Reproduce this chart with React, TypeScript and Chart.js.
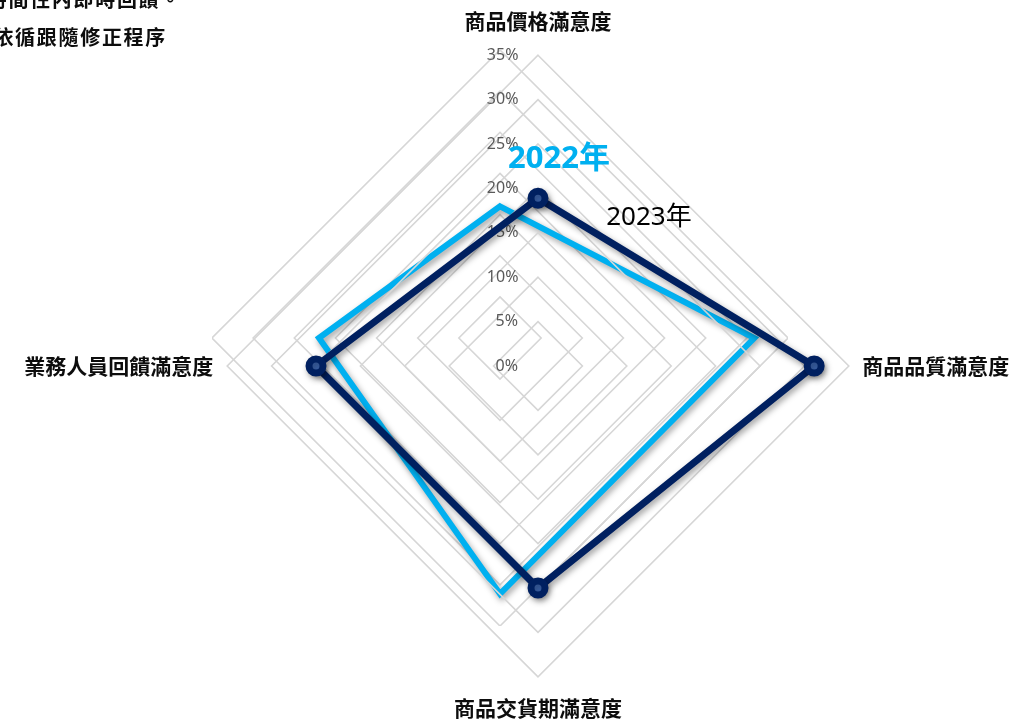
import React, { useEffect, useRef } from 'react';
import { Chart, registerables } from 'chart.js';

Chart.register(...registerables);

// ---- data ----
const categories = ['商品價格滿意度', '商品品質滿意度', '商品交貨期滿意度', '業務人員回饋滿意度'];
const series2022 = [16.0, 30.9, 31.1, 22.0];
const series2023 = [18.9, 31.1, 25.0, 25.0];
const seriesNames = ['2022年', '2023年'];
const scaleMin = 0;
const scaleMax = 35;
const scaleStep = 5;
const noteLines = ['時間性內即時回饋。', '依循跟隨修正程序'];

const CJK = "'Noto Sans CJK TC', 'Noto Sans', sans-serif";
const LATIN = "'Noto Sans', 'Noto Sans CJK TC', sans-serif";

const shadowPlugin = {
  id: 'lineShadow',
  beforeDatasetsDraw(chart: any) {
    const c = chart.ctx;
    c.save();
    c.shadowColor = 'rgba(0,0,0,0.38)';
    c.shadowBlur = 6;
    c.shadowOffsetX = 2;
    c.shadowOffsetY = 3;
  },
  afterDatasetsDraw(chart: any) {
    chart.ctx.restore();
  },
};

function Radar2022() {
  const ref = useRef<HTMLCanvasElement | null>(null);
  useEffect(() => {
    if (!ref.current) return;
    const chart = new Chart(ref.current, {
      type: 'radar',
      data: {
        labels: categories,
        datasets: [
          {
            label: seriesNames[0],
            data: series2022,
            borderColor: '#00B0F0',
            backgroundColor: 'rgba(0,0,0,0)',
            borderWidth: 6,
            pointRadius: 0,
            pointHoverRadius: 0,
            fill: false,
            borderJoinStyle: 'miter',
          } as any,
        ],
      },
      options: {
        responsive: false,
        animation: false,
        events: [],
        layout: { padding: 0 },
        plugins: { legend: { display: false }, tooltip: { enabled: false } },
        scales: {
          r: {
            min: scaleMin,
            max: scaleMax,
            ticks: { display: false, stepSize: scaleStep },
            pointLabels: { display: false },
            angleLines: { display: false },
            grid: { color: '#D6D6D6', lineWidth: 1.6 },
          },
        },
      } as any,
      plugins: [shadowPlugin],
    });
    return () => chart.destroy();
  }, []);
  return (
    <canvas
      ref={ref}
      width={576}
      height={576}
      style={{ position: 'absolute', left: 212, top: 50, width: 576, height: 576 }}
    />
  );
}

function Radar2023() {
  const ref = useRef<HTMLCanvasElement | null>(null);
  useEffect(() => {
    if (!ref.current) return;
    const labelPads = [14, 5.5, 11, 6];
    const chart = new Chart(ref.current, {
      type: 'radar',
      data: {
        labels: categories,
        datasets: [
          {
            label: seriesNames[1],
            data: series2023,
            borderColor: '#002060',
            backgroundColor: 'rgba(0,0,0,0)',
            borderWidth: 7,
            pointRadius: 7,
            pointHoverRadius: 7,
            pointBorderWidth: 7,
            pointBackgroundColor: '#4472C4',
            pointBorderColor: '#002060',
            fill: false,
          } as any,
        ],
      },
      options: {
        responsive: false,
        animation: false,
        events: [],
        layout: { padding: { top: 7, bottom: 7, left: 0, right: 0 } },
        plugins: { legend: { display: false }, tooltip: { enabled: false } },
        scales: {
          r: {
            min: scaleMin,
            max: scaleMax,
            // duplicate the first tick so that the 0% label is drawn too
            afterBuildTicks: (scale: any) => {
              scale.ticks = [{ value: scaleMin }, ...scale.ticks];
            },
            ticks: {
              display: true,
              stepSize: scaleStep,
              showLabelBackdrop: false,
              backdropPadding: 0,
              color: '#595959',
              font: { family: LATIN, size: 16 },
              callback: (v: any) => {
                const s = `${v}%`;
                return s + ' '.repeat(s.length <= 2 ? 15 : 17);
              },
            },
            pointLabels: {
              display: true,
              color: '#0D0D0D',
              font: { family: CJK, size: 21, weight: 'bold' },
              padding: (ctx: any) => labelPads[ctx.index] ?? 8,
            },
            angleLines: { display: false },
            grid: {
              color: (ctx: any) => (ctx.tick && ctx.tick.value === scaleMin ? 'rgba(0,0,0,0)' : '#D6D6D6'),
              lineWidth: 1.6,
            },
          },
        },
      } as any,
      plugins: [shadowPlugin],
    });
    return () => chart.destroy();
  }, []);
  return (
    <canvas
      ref={ref}
      width={1156}
      height={730}
      style={{ position: 'absolute', left: -40, top: 0, width: 1156, height: 730 }}
    />
  );
}

export default function App() {
  return (
    <div
      style={{
        position: 'absolute',
        left: 0,
        top: 0,
        width: 1015,
        height: 719,
        overflow: 'hidden',
        background: '#FFFFFF',
      }}
    >
      <Radar2022 />
      <Radar2023 />
      <div
        style={{
          position: 'absolute',
          right: 1015 - 182,
          top: -14,
          fontFamily: CJK,
          fontWeight: 'bold',
          fontSize: 20,
          letterSpacing: 1.7,
          lineHeight: '26px',
          whiteSpace: 'nowrap',
          color: '#0D0D0D',
        }}
      >
        {noteLines[0]}
      </div>
      <div
        style={{
          position: 'absolute',
          right: 1015 - 167,
          top: 24,
          fontFamily: CJK,
          fontWeight: 'bold',
          fontSize: 20,
          letterSpacing: 1.7,
          lineHeight: '26px',
          whiteSpace: 'nowrap',
          color: '#0D0D0D',
        }}
      >
        {noteLines[1]}
      </div>
      <div
        style={{
          position: 'absolute',
          left: 559,
          top: 156,
          transform: 'translate(-50%, -50%)',
          fontFamily: LATIN,
          fontWeight: 'bold',
          fontSize: 31,
          lineHeight: '36px',
          whiteSpace: 'nowrap',
          color: '#00B0F0',
        }}
      >
        {seriesNames[0]}
      </div>
      <div
        style={{
          position: 'absolute',
          left: 649,
          top: 215,
          transform: 'translate(-50%, -50%)',
          fontFamily: LATIN,
          fontSize: 26,
          lineHeight: '32px',
          whiteSpace: 'nowrap',
          color: '#000000',
        }}
      >
        {seriesNames[1]}
      </div>
    </div>
  );
}
